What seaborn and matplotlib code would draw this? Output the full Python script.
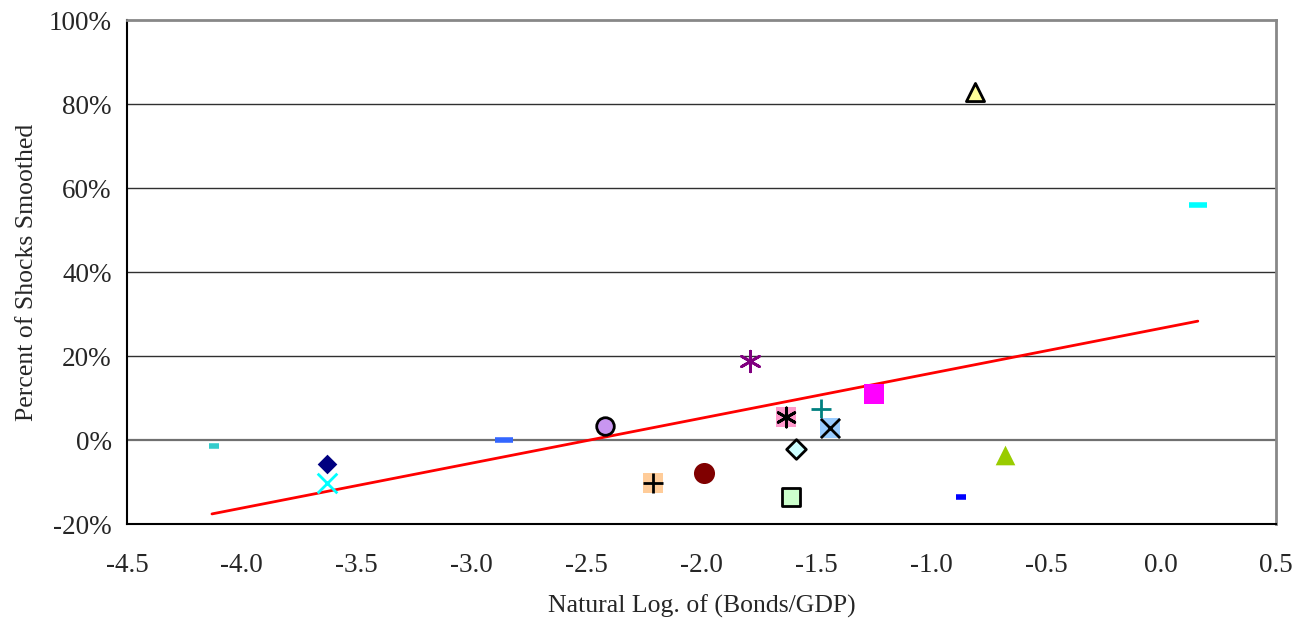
import matplotlib
matplotlib.use("Agg")
import matplotlib.pyplot as plt
import seaborn as sns
import pandas as pd

# data
log_bonds_gdp = [-4.12, -3.63, -3.63, -2.86, -2.42, -2.21, -1.99, -1.79, -1.63,
                 -1.59, -1.61, -1.48, -1.44, -1.25, -0.87, -0.81, -0.68, 0.16]
pct_smoothed = [-0.014, -0.057, -0.102, 0.0, 0.033, -0.102, -0.079, 0.188, 0.055,
                -0.021, -0.136, 0.074, 0.029, 0.11, -0.136, 0.829, -0.036, 0.56]
trend_x = [-4.13, 0.16]
trend_y = [-0.176, 0.283]

# marker styling per point
markers = ['_', 'D', 'x', '_', 'o', 's', 'o', (6, 2, 0), 's', 'D', 's', '+', 's', 's', '_', '^', '^', '_']
faces = ['#33CCCC', '#000080', '#00FFFF', '#3366FF', '#C896F0', '#FFCC99', '#800000', '#800080', '#FF99CC',
         '#CCFFFF', '#CCFFCC', '#008080', '#99CCFF', '#FF00FF', '#0000FF', '#FFFF99', '#99CC00', '#00FFFF']
edges = ['#33CCCC', '#000080', '#00FFFF', '#3366FF', 'black', '#FFCC99', '#800000', '#800080', '#FF99CC',
         'black', 'black', '#008080', '#99CCFF', '#FF00FF', '#0000FF', 'black', '#99CC00', '#00FFFF']
sizes = [60, 100, 200, 160, 160, 190, 230, 220, 210, 100, 180, 200, 210, 210, 50, 170, 200, 160]
widths = [4, 0, 2, 4, 2, 0, 0, 2, 0, 2, 2, 2, 0, 0, 4, 2, 0, 4]
overlay = [None, None, None, None, None, '+', None, None, (6, 2, 0), None, None, None, 'x', None, None, None, None, None]

sns.set_style("white")
plt.rcParams['font.family'] = ['Liberation Serif', 'DejaVu Serif']
plt.rcParams['axes.unicode_minus'] = False

fig = plt.figure(figsize=(13.02, 6.25), dpi=100)
ax = fig.add_axes([0.0975, 0.1616, 0.8825, 0.8064])

for yv in [0.2, 0.4, 0.6, 0.8]:
    ax.axhline(yv, color='#303030', lw=1, zorder=1)
ax.axhline(0, color='#707070', lw=1.6, zorder=1)

sns.lineplot(x=trend_x, y=trend_y, color='red', lw=2, ax=ax, zorder=2)

df = pd.DataFrame({'x': log_bonds_gdp, 'y': pct_smoothed})
for i in range(len(df)):
    pt = df.iloc[[i]]
    sns.scatterplot(data=pt, x='x', y='y', marker=markers[i], s=sizes[i],
                    color=faces[i], edgecolor=edges[i], linewidth=widths[i], ax=ax, zorder=3)
    if overlay[i] is not None:
        sns.scatterplot(data=pt, x='x', y='y', marker=overlay[i], s=190,
                        color='black', linewidth=2, ax=ax, zorder=4)

ax.set_xlim(-4.5, 0.5)
ax.set_ylim(-0.2, 1.0)
ax.set_xticks([-4.5, -4.0, -3.5, -3.0, -2.5, -2.0, -1.5, -1.0, -0.5, 0.0, 0.5])
ax.set_xticklabels(['-4.5', '-4.0', '-3.5', '-3.0', '-2.5', '-2.0', '-1.5', '-1.0', '-0.5', '0.0', '0.5'])
ax.set_yticks([-0.2, 0, 0.2, 0.4, 0.6, 0.8, 1.0])
ax.set_yticklabels(['-20%', '0%', '20%', '40%', '60%', '80%', '100%'])
ax.tick_params(axis='both', direction='in', length=6, width=1, labelsize=19.5, color='black')
ax.tick_params(axis='x', pad=21)
ax.tick_params(axis='y', pad=11)

for side in ['left', 'bottom']:
    ax.spines[side].set_color('black')
    ax.spines[side].set_linewidth(1.5)
for side in ['top', 'right']:
    ax.spines[side].set_color('#888888')
    ax.spines[side].set_linewidth(2)

ax.set_xlabel('Natural Log. of (Bonds/GDP)', fontsize=18.5, labelpad=12)
ax.set_ylabel('Percent of Shocks Smoothed', fontsize=18.5, labelpad=8)
if ax.get_legend():
    ax.get_legend().remove()

fig.savefig('out.png', dpi=100)
